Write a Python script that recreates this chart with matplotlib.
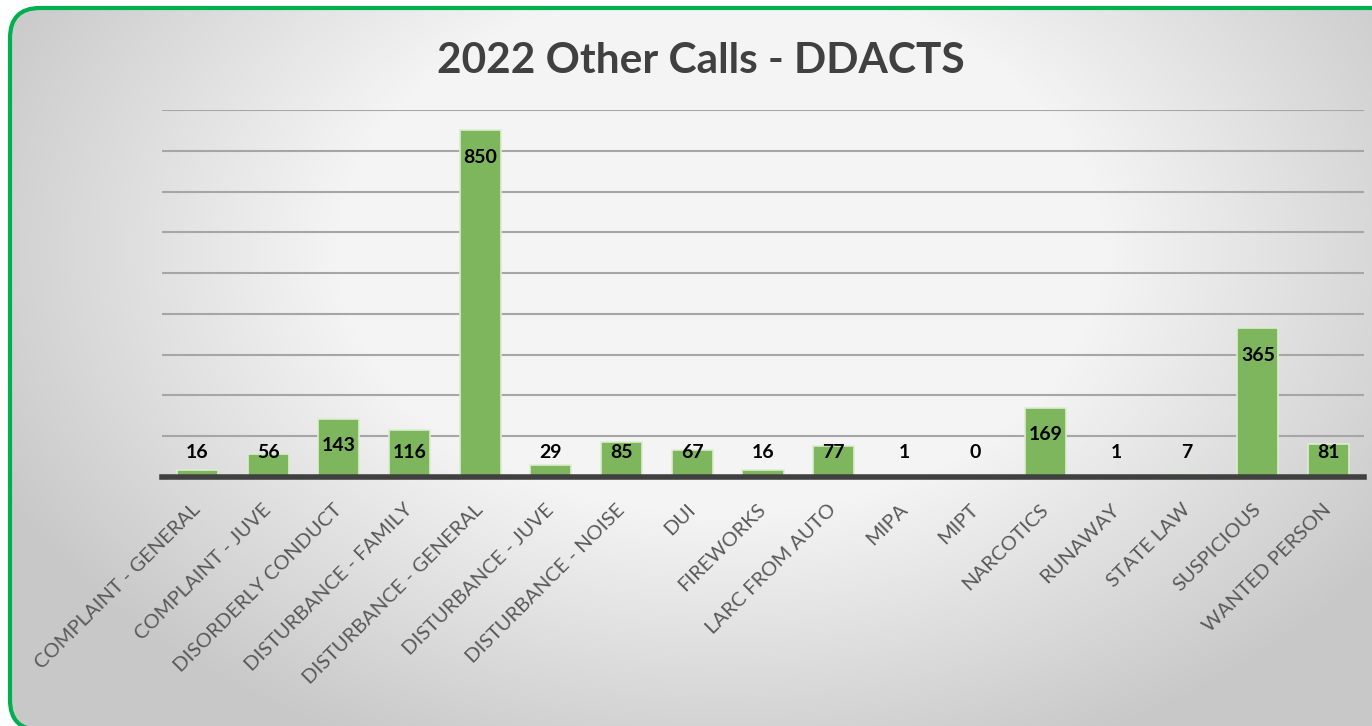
import numpy as np
import matplotlib
matplotlib.use("Agg")
import matplotlib.pyplot as plt
from matplotlib.patches import FancyBboxPatch

categories = ["COMPLAINT - GENERAL", "COMPLAINT - JUVE", "DISORDERLY CONDUCT",
              "DISTURBANCE - FAMILY", "DISTURBANCE - GENERAL", "DISTURBANCE - JUVE",
              "DISTURBANCE - NOISE", "DUI", "FIREWORKS", "LARC FROM AUTO", "MIPA",
              "MIPT", "NARCOTICS", "RUNAWAY", "STATE LAW", "SUSPICIOUS", "WANTED PERSON"]
calls = [16, 56, 143, 116, 850, 29, 85, 67, 16, 77, 1, 0, 169, 1, 7, 365, 81]
title = "2022 Other Calls - DDACTS"

W, H = 1372, 726
plt.rcParams['font.family'] = ['Lato', 'DejaVu Sans']
fig = plt.figure(figsize=(W / 100, H / 100), dpi=100)

# background panel in pixel coordinates, radial gradient clipped to a rounded box
bg = fig.add_axes([0, 0, 1, 1], zorder=0)
bg.set_xlim(0, W)
bg.set_ylim(0, H)
bg.axis("off")
yy, xx = np.mgrid[0:H, 0:W]
r = np.hypot((xx - 720) / 700.0, (yy - 476) / 480.0)
shade = 244 - 44 * np.clip((r - 0.55) / 0.6, 0, 1)
img = np.dstack([shade, shade, shade]) / 255.0
box = FancyBboxPatch((10, -4), 1420, 722, boxstyle="round,pad=0,rounding_size=30",
                     facecolor="none", edgecolor="#00b050", lw=3,
                     transform=bg.transData, zorder=3)
im = bg.imshow(img, extent=(0, W, 0, H), origin="lower", aspect="auto", zorder=1)
bg.add_patch(box)
im.set_clip_path(box)

ax = fig.add_axes([162 / W, 1 - 477 / H, (1364 - 162) / W, (477 - 110) / H], zorder=1)
ax.patch.set_alpha(0)
x = np.arange(len(categories))
ax.bar(x, calls, width=0.58, color="#7db65d", edgecolor="#dcedd2", linewidth=1.2, zorder=3)
ax.set_xlim(-0.5, len(categories) - 0.5)
ax.set_ylim(0, 900)
ax.set_yticks(np.arange(100, 901, 100))
ax.yaxis.grid(True, color="#a6a6a6", lw=1.5, zorder=1)
ax.tick_params(axis="y", left=False, labelleft=False)
ax.tick_params(axis="x", bottom=False, pad=18)
for s in ["top", "right", "left"]:
    ax.spines[s].set_visible(False)
ax.spines["bottom"].set_color("#404040")
ax.spines["bottom"].set_linewidth(4)
ax.spines["bottom"].set_zorder(4)

ax.set_xticks(x)
ax.set_xticklabels(categories, rotation=45, ha="right", va="center",
                   rotation_mode="anchor", fontsize=14.5, color="#595959")

for xi, v in zip(x, calls):
    ax.text(xi, max(v - 66, 61), str(v), ha="center", va="center",
            fontsize=14, fontweight="bold", color="black", zorder=5)

fig.text(701 / W, 1 - 61 / H, title, ha="center", va="center",
         fontsize=30.5, fontweight="bold", color="#404040")

fig.savefig("out.png", dpi=100)
